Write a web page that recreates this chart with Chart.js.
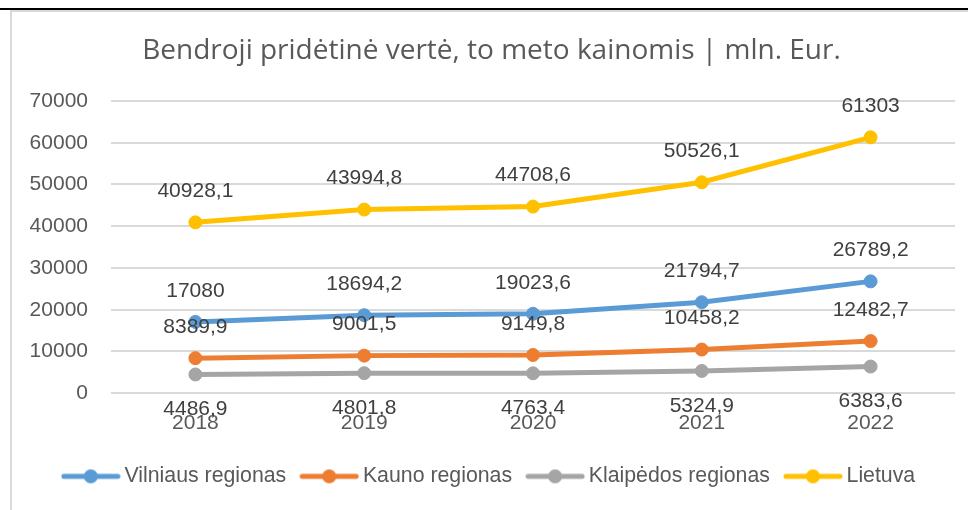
<!DOCTYPE html>
<html>
<head>
<meta charset="utf-8">
<script src="https://cdn.jsdelivr.net/npm/chart.js@4/dist/chart.umd.min.js"></script>
<style>
  body { margin: 0; background: #fff; overflow: hidden; width: 968px; height: 510px; position: relative; }
  .linea { position: absolute; left: 0; top: 8px; width: 968px; height: 2px; background: #000; }
  .marco { position: absolute; left: 10px; top: 10px; width: 1000px; height: 600px; border-left: 2px solid #d9d9d9; border-top: 2px solid #d9d9d9; }
  .caja { position: absolute; left: 10px; top: 10px; width: 975px; height: 500px; }
</style>
</head>
<body>
<div class="linea"></div>
<div class="marco"></div>
<div class="caja"><canvas id="grafica" width="975" height="500"></canvas></div>

<script>
//datos
var anios = ['2018', '2019', '2020', '2021', '2022'];
var vilnius = [17080, 18694.2, 19023.6, 21794.7, 26789.2];
var kaunas = [8389.9, 9001.5, 9149.8, 10458.2, 12482.7];
var klaipeda = [4486.9, 4801.8, 4763.4, 5324.9, 6383.6];
var lietuva = [40928.1, 43994.8, 44708.6, 50526.1, 61303];
var nombres = ['Vilniaus regionas', 'Kauno regionas', 'Klaipėdos regionas', 'Lietuva'];
var colores = ['#5B9BD5', '#ED7D31', '#A5A5A5', '#FFC000'];
var series = [vilnius, kaunas, klaipeda, lietuva];
//posicion de la etiqueta: -1 arriba, 1 abajo
var lado = [-1, -1, 1, -1];

var fuente = '"Liberation Sans", Arial, sans-serif';

function marcador( color )
{
  var c = document.createElement( 'canvas' );
  c.width = 60;
  c.height = 16;
  var ctx = c.getContext( '2d' );
  ctx.strokeStyle = color;
  ctx.lineWidth = 5;
  ctx.lineCap = 'round';
  ctx.beginPath();
  ctx.moveTo( 3, 8 );
  ctx.lineTo( 57, 8 );
  ctx.stroke();
  ctx.fillStyle = color;
  ctx.beginPath();
  ctx.arc( 30, 8, 7, 0, Math.PI * 2 );
  ctx.fill();
  return c;
}

var marcadores = colores.map( marcador );

//etiquetas de datos
var etiquetas = {
  id: 'etiquetas',
  afterDatasetsDraw: function( chart )
  {
    var ctx = chart.ctx;
    ctx.save();
    ctx.font = '21px ' + fuente;
    ctx.fillStyle = '#404040';
    ctx.textAlign = 'center';
    ctx.textBaseline = 'middle';
    chart.data.datasets.forEach( function( ds, i )
    {
      chart.getDatasetMeta( i ).data.forEach( function( p, j )
      {
        var txt = String( ds.data[ j ] ).replace( '.', ',' );
        var dy = lado[ i ] < 0 ? -31 : 35;
        ctx.fillText( txt, p.x, p.y + dy );
      });
    });
    ctx.restore();
  }
};

var datasets = series.map( function( s, i )
{
  return {
    label: nombres[ i ],
    data: s,
    borderColor: colores[ i ],
    backgroundColor: colores[ i ],
    borderWidth: 5,
    pointRadius: 6.5,
    pointBorderWidth: 1,
    pointBackgroundColor: colores[ i ],
    pointBorderColor: colores[ i ],
    tension: 0
  };
});

new Chart( document.getElementById( 'grafica' ),
{
  type: 'line',
  data: { labels: anios, datasets: datasets },
  plugins: [ etiquetas ],
  options:
  {
    responsive: false,
    animation: false,
    layout: { padding: { left: 18, right: 30, top: 0, bottom: 13 } },
    plugins:
    {
      title:
      {
        display: true,
        text: 'Bendroji pridėtinė vertė, to meto kainomis | mln. Eur.',
        color: '#595959',
        font: { family: '"Open Sans", sans-serif', size: 28, weight: 'normal' },
        padding: { top: 24, bottom: 33.4 }
      },
      legend:
      {
        position: 'bottom',
        labels:
        {
          color: '#595959',
          font: { family: fuente, size: 21.3 },
          usePointStyle: true,
          pointStyleWidth: 46,
          padding: 20,
          generateLabels: function( chart )
          {
            var items = Chart.defaults.plugins.legend.labels.generateLabels( chart );
            items.forEach( function( it, i ) { it.pointStyle = marcadores[ i ]; });
            return items;
          }
        }
      },
      tooltip: { enabled: false }
    },
    scales:
    {
      x:
      {
        offset: true,
        grid: { display: false, drawTicks: false },
        border: { display: false },
        ticks: { color: '#595959', font: { family: fuente, size: 21 }, padding: 17 },
        afterFit: function( scale ) { scale.height = 52.5; }
      },
      y:
      {
        min: 0,
        max: 70000,
        ticks:
        {
          stepSize: 10000,
          color: '#595959',
          font: { family: fuente, size: 21 },
          padding: 23,
          callback: function( v ) { return String( v ); }
        },
        grid: { color: '#d9d9d9', lineWidth: 2, drawTicks: false },
        border: { display: false },
        afterFit: function( scale ) { scale.width = 83; }
      }
    }
  }
});
</script>
</body>
</html>
